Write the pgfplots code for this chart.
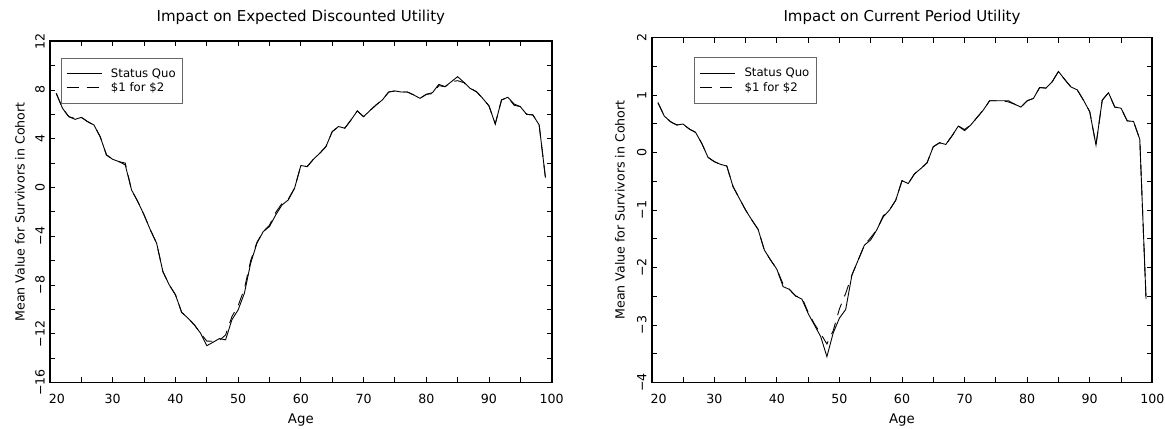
\documentclass[border=0pt]{standalone}
\usepackage{fontspec}
\setmainfont{DejaVu Sans}
\usepackage{pgfplots}
\usepackage{pgfplotstable}
\pgfplotsset{compat=1.18}

\pgfplotstableread{
age sq alt
21 7.72 7.72
22 6.49 6.49
23 5.81 5.81
24 5.59 5.65
25 5.75 5.75
26 5.40 5.40
27 5.13 5.13
28 4.17 4.17
29 2.67 2.67
30 2.31 2.31
31 2.12 2.12
32 1.85 2.00
33 -0.20 -0.20
34 -1.16 -1.16
35 -2.25 -2.25
36 -3.48 -3.48
37 -4.57 -4.57
38 -6.90 -6.90
39 -7.98 -7.98
40 -8.80 -8.80
41 -10.25 -10.25
42 -10.72 -10.72
43 -11.26 -11.26
44 -11.95 -11.95
45 -12.98 -12.60
46 -12.70 -12.62
47 -12.40 -12.55
48 -12.50 -12.10
49 -10.86 -10.60
50 -10.04 -9.70
51 -8.67 -8.30
52 -6.21 -6.00
53 -4.57 -4.50
54 -3.62 -3.62
55 -3.20 -3.10
56 -2.25 -2.05
57 -1.43 -1.30
58 -1.02 -0.95
59 -0.06 -0.06
60 1.80 1.80
61 1.71 1.71
62 2.31 2.31
63 2.80 2.80
64 3.35 3.35
65 4.58 4.58
66 5.00 5.00
67 4.86 4.86
68 5.54 5.54
69 6.28 6.28
70 5.81 5.81
71 6.30 6.30
72 6.77 6.77
73 7.18 7.18
74 7.83 7.83
75 7.92 7.92
76 7.83 7.83
77 7.83 7.83
78 7.59 7.59
79 7.31 7.31
80 7.64 7.64
81 7.78 7.70
82 8.46 8.35
83 8.27 8.27
84 8.68 8.68
85 9.09 8.76
86 8.63 8.60
87 8.13 8.13
88 7.86 7.86
89 7.31 7.31
90 6.69 6.69
91 5.21 5.21
92 7.18 7.18
93 7.40 7.40
94 6.85 6.75
95 6.63 6.63
96 6.00 6.00
97 5.95 5.95
98 5.13 5.13
99 0.81 0.81
}\leftdata

\pgfplotstableread{
age sq alt
21 0.867 0.867
22 0.635 0.635
23 0.536 0.536
24 0.478 0.478
25 0.496 0.496
26 0.409 0.409
27 0.351 0.351
28 0.159 0.159
29 -0.084 -0.084
30 -0.159 -0.159
31 -0.206 -0.206
32 -0.235 -0.235
33 -0.594 -0.594
34 -0.797 -0.797
35 -1.000 -1.000
36 -1.174 -1.174
37 -1.336 -1.336
38 -1.696 -1.696
39 -1.870 -1.870
40 -2.030 -2.030
41 -2.333 -2.290
42 -2.380 -2.380
43 -2.496 -2.496
44 -2.550 -2.520
45 -2.800 -2.780
46 -3.000 -2.980
47 -3.200 -3.150
48 -3.550 -3.330
49 -3.140 -3.100
50 -2.880 -2.720
51 -2.730 -2.450
52 -2.130 -2.130
53 -1.870 -1.870
54 -1.610 -1.610
55 -1.520 -1.480
56 -1.340 -1.340
57 -1.120 -1.100
58 -1.000 -1.000
59 -0.830 -0.830
60 -0.490 -0.490
61 -0.540 -0.540
62 -0.370 -0.370
63 -0.280 -0.280
64 -0.180 -0.180
65 0.100 0.100
66 0.170 0.170
67 0.140 0.140
68 0.290 0.290
69 0.460 0.460
70 0.380 0.400
71 0.480 0.480
72 0.610 0.610
73 0.740 0.740
74 0.900 0.900
75 0.900 0.900
76 0.900 0.900
77 0.900 0.880
78 0.840 0.840
79 0.790 0.790
80 0.900 0.900
81 0.940 0.940
82 1.130 1.130
83 1.120 1.120
84 1.230 1.230
85 1.410 1.410
86 1.270 1.270
87 1.140 1.140
88 1.090 1.090
89 0.910 0.910
90 0.710 0.710
91 0.130 0.130
92 0.910 0.910
93 1.040 1.040
94 0.790 0.790
95 0.770 0.770
96 0.550 0.550
97 0.540 0.540
98 0.230 0.230
99 -2.550 -2.550
}\rightdata

\pgfplotsset{
  myaxis/.style={
    scale only axis,
    xmin=20, xmax=100,
    xtick={20,30,...,100},
    xticklabels={\hspace{14bp}20,30,40,50,60,70,80,90,100},
    minor xtick={25,35,...,95},
    tick align=inside,
    xtick pos=both, ytick pos=both,
    xticklabel pos=lower, yticklabel pos=left,
    major tick length=5bp, minor tick length=5bp,
    every tick/.style={black, line width=0.9bp},
    axis line style={line width=1.7bp},
    /pgf/number format/assume math mode=true,
    tick label style={font=\fontsize{12.6bp}{14bp}\selectfont},
    xticklabel style={anchor=center, yshift=-16bp},
    yticklabel style={xshift=-10bp, rotate=90, anchor=center},
    xlabel={Age},
    xlabel style={at={(axis description cs:0.5,0)}, anchor=center, yshift=-37.5bp, font=\fontsize{13.3bp}{15bp}\selectfont},
    ylabel={Mean Value for Survivors in Cohort},
    ylabel style={font=\fontsize{12.6bp}{14bp}\selectfont, anchor=center},
    title style={font=\fontsize{15bp}{17bp}\selectfont, anchor=center},
    legend cell align=left,
    legend image code/.code={\draw[##1] (0bp,0bp) -- (35bp,0bp);},
    legend style={anchor=north west, draw=black!60, line width=0.8bp, fill=white,
      font=\fontsize{11.7bp}{13bp}\selectfont, inner xsep=5bp, inner ysep=8.5bp,
      row sep=0bp, nodes={inner sep=2bp},
      /tikz/every odd column/.append style={column sep=7bp}},
  },
  sq/.style={black, line width=0.9bp},
  alt/.style={black, line width=0.9bp, dash pattern=on 12bp off 8bp},
}

\begin{document}
\begin{tikzpicture}
\useasboundingbox (0,0) rectangle (1165bp,429bp);
\begin{axis}[myaxis,
  at={(50bp,46.5bp)}, anchor=south west,
  width=501.7bp, height=341.3bp,
  ymin=-16, ymax=12,
  ytick={-16,-12,...,12},
  yticklabels={−16,−12,−8,−4,0,4,8,12},
  minor ytick={-14,-10,...,10},
  title={Impact on Expected Discounted Utility},
  title style={at={(axis description cs:0.5,1)}, yshift=18bp},
  ylabel style={at={(axis description cs:-0.0598,0.5)}},
  legend style={at={(axis description cs:0.0213,0.952)}},
]
\addplot[sq] table[x=age, y=sq] {\leftdata};
\addlegendentry{Status Quo}
\addplot[alt] table[x=age, y=alt] {\leftdata};
\addlegendentry{\$1 for \$2}
\end{axis}

\begin{axis}[myaxis,
  at={(651.7bp,46.5bp)}, anchor=south west,
  width=500.6bp, height=345bp,
  ymin=-4, ymax=2,
  ytick={-4,-3,...,2},
  yticklabels={−4,−3,−2,−1,0,1,2},
  minor ytick={-3.5,-2.5,...,1.5},
  title={Impact on Current Period Utility},
  title style={at={(axis description cs:0.5,1)}, yshift=14.5bp},
  ylabel style={at={(axis description cs:-0.0633,0.5)}},
  legend style={at={(axis description cs:0.085,0.943)}},
]
\addplot[sq] table[x=age, y=sq] {\rightdata};
\addlegendentry{Status Quo}
\addplot[alt] table[x=age, y=alt] {\rightdata};
\addlegendentry{\$1 for \$2}
\end{axis}
\end{tikzpicture}
\end{document}
